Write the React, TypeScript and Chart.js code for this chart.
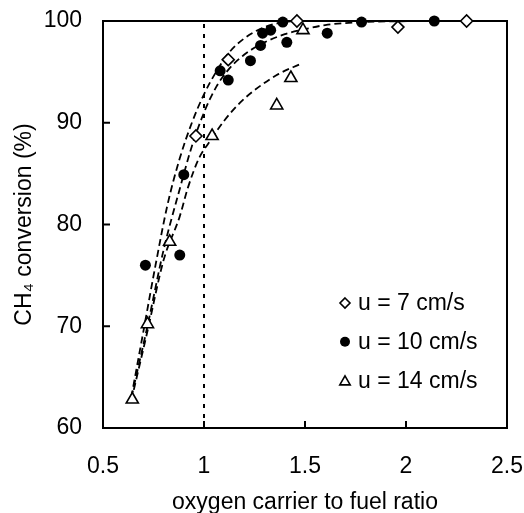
import React, { useEffect, useRef } from 'react';
import { Chart, registerables } from 'chart.js';

Chart.register(...registerables);

// ---- data ----
const seriesLabels = ['u = 7 cm/s', 'u = 10 cm/s', 'u = 14 cm/s'];

const u7X = [0.96, 1.12, 1.46, 1.96, 2.3];
const u7Y = [88.7, 96.2, 100, 99.4, 100];

const u10X = [0.71, 0.88, 0.9, 1.08, 1.12, 1.23, 1.28, 1.29, 1.33, 1.39, 1.41, 1.61, 1.78, 2.14];
const u10Y = [76.0, 77.0, 84.9, 95.1, 94.2, 96.1, 97.6, 98.8, 99.1, 99.9, 97.9, 98.8, 99.9, 100];

const u14X = [0.645, 0.72, 0.83, 1.04, 1.36, 1.43, 1.49];
const u14Y = [62.8, 70.2, 78.3, 88.7, 91.7, 94.4, 99.1];

// dashed fitted curves
const fit7X = [0.64, 0.7, 0.76, 0.82, 0.88, 0.94, 1.0, 1.06, 1.12, 1.2, 1.3, 1.4, 1.5, 2.3];
const fit7Y = [63, 69.5, 76, 82, 86.5, 90, 92.8, 95, 96.8, 98.3, 99.4, 99.9, 100, 100];

const fit10X = [0.64, 0.72, 0.8, 0.88, 0.94, 1.0, 1.06, 1.12, 1.2, 1.3, 1.4, 1.5, 1.6, 1.8, 2.15];
const fit10Y = [63, 70, 77.5, 83.5, 87.7, 91, 93.5, 95.2, 96.7, 97.9, 98.7, 99.2, 99.6, 99.9, 100];

const fit14X = [0.64, 0.72, 0.8, 0.88, 0.92, 0.975, 1.03, 1.1, 1.18, 1.27, 1.37, 1.48];
const fit14Y = [62.7, 69.5, 76.5, 80.8, 83.6, 86.5, 88.2, 90.2, 92, 93.5, 94.8, 95.8];

const refLineX = 1;
const xMin = 0.5;
const xMax = 2.5;
const xStep = 0.5;
const yMin = 60;
const yMax = 100;
const yStep = 10;

const xTitle = 'oxygen carrier to fuel ratio';
const yTitle = 'CH\u2084 conversion (%)';

const FONT = "'Liberation Sans', Arial, sans-serif";
const FONT_SIZE = 23;

const pts = (xs: number[], ys: number[]) => xs.map((x, i) => ({ x, y: ys[i] }));

function drawMarker(ctx: CanvasRenderingContext2D, style: string, x: number, y: number, r: number) {
  ctx.beginPath();
  if (style === 'circle') {
    ctx.arc(x, y, r, 0, Math.PI * 2);
    ctx.fillStyle = '#000';
    ctx.fill();
    return;
  }
  if (style === 'rectRot') {
    ctx.moveTo(x, y - r);
    ctx.lineTo(x + r, y);
    ctx.lineTo(x, y + r);
    ctx.lineTo(x - r, y);
    ctx.closePath();
  } else {
    ctx.moveTo(x, y - r);
    ctx.lineTo(x + r * 0.866, y + r * 0.5);
    ctx.lineTo(x - r * 0.866, y + r * 0.5);
    ctx.closePath();
  }
  ctx.fillStyle = '#fff';
  ctx.fill();
  ctx.lineWidth = 1.6;
  ctx.strokeStyle = '#000';
  ctx.stroke();
}

const framePlugin = {
  id: 'frameTicks',
  beforeDatasetsDraw(chart: any) {
    const { ctx, chartArea } = chart;
    const { left, right, top, bottom } = chartArea;
    ctx.save();
    ctx.strokeStyle = '#000';
    ctx.lineWidth = 2;
    ctx.strokeRect(left, top, right - left, bottom - top);
    const tl = 7;
    const xs = chart.scales.x;
    xs.ticks.forEach((t: any) => {
      const px = xs.getPixelForValue(t.value);
      ctx.beginPath();
      ctx.moveTo(px, bottom);
      ctx.lineTo(px, bottom - tl);
      ctx.stroke();
    });
    const ys = chart.scales.y;
    ys.ticks.forEach((t: any) => {
      const py = ys.getPixelForValue(t.value);
      ctx.beginPath();
      ctx.moveTo(left, py);
      ctx.lineTo(left + tl, py);
      ctx.stroke();
    });
    ctx.restore();
  },
};

const legendPlugin = {
  id: 'innerLegend',
  afterDraw(chart: any) {
    const { ctx, chartArea } = chart;
    ctx.save();
    ctx.font = `${FONT_SIZE}px ${FONT}`;
    ctx.fillStyle = '#000';
    ctx.textBaseline = 'middle';
    ctx.textAlign = 'left';
    const mx = chartArea.right - 162;
    const startY = chartArea.bottom - 125;
    const gap = 38.7;
    const markerDatasets = chart.data.datasets.filter((d: any) => d.isMarker);
    markerDatasets.forEach((d: any, i: number) => {
      const y = startY + i * gap;
      const r = d.pointStyle === 'circle' ? 5 : d.pointStyle === 'triangle' ? 6 : 5;
      drawMarker(ctx, d.pointStyle, mx, y + (d.pointStyle === 'triangle' ? 1.5 : 0), r);
      ctx.fillStyle = '#000';
      ctx.fillText(d.label, mx + 13, y + 1);
    });
    ctx.restore();
  },
};

export default function App() {
  const ref = useRef<HTMLCanvasElement | null>(null);
  useEffect(() => {
    if (!ref.current) return;
    Chart.defaults.font.family = FONT;
    Chart.defaults.font.size = FONT_SIZE;
    Chart.defaults.color = '#000';
    const lineDs = (label: string, xs: number[], ys: number[]) => ({
      type: 'line' as const,
      label,
      data: pts(xs, ys),
      borderColor: '#000',
      borderWidth: 1.8,
      borderDash: [7, 4],
      pointRadius: 0,
      fill: false,
      cubicInterpolationMode: 'monotone' as const,
      order: 2,
    });
    const chart = new Chart(ref.current, {
      type: 'scatter',
      data: {
        datasets: [
          {
            label: seriesLabels[0],
            data: pts(u7X, u7Y),
            pointStyle: 'rectRot',
            pointRadius: 6,
            backgroundColor: '#fff',
            borderColor: '#000',
            borderWidth: 1.6,
            clip: false,
            order: 0,
            isMarker: true,
          } as any,
          {
            label: seriesLabels[1],
            data: pts(u10X, u10Y),
            pointStyle: 'circle',
            pointRadius: 5.5,
            backgroundColor: '#000',
            borderColor: '#000',
            borderWidth: 0,
            clip: false,
            order: 0,
            isMarker: true,
          } as any,
          {
            label: seriesLabels[2],
            data: pts(u14X, u14Y),
            pointStyle: 'triangle',
            pointRadius: 7,
            backgroundColor: '#fff',
            borderColor: '#000',
            borderWidth: 1.6,
            clip: false,
            order: 0,
            isMarker: true,
          } as any,
          lineDs('fit 7', fit7X, fit7Y) as any,
          lineDs('fit 10', fit10X, fit10Y) as any,
          lineDs('fit 14', fit14X, fit14Y) as any,
          {
            type: 'line',
            label: 'stoichiometric',
            data: [
              { x: refLineX, y: yMin },
              { x: refLineX, y: yMax },
            ],
            borderColor: '#000',
            borderWidth: 2,
            borderDash: [4, 6],
            pointRadius: 0,
            fill: false,
            order: 3,
          } as any,
        ],
      },
      options: {
        animation: false,
        responsive: false,
        layout: { padding: { top: 21, right: 17, left: 0, bottom: 0 } },
        plugins: { legend: { display: false }, tooltip: { enabled: false } },
        scales: {
          x: {
            type: 'linear',
            min: xMin,
            max: xMax,
            ticks: {
              stepSize: xStep,
              padding: 0,
              color: '#000',
              callback: (v: any) => String(Math.round(Number(v) * 10) / 10),
            },
            grid: { drawOnChartArea: false, drawTicks: true, tickLength: 25, tickColor: 'rgba(0,0,0,0)' },
            border: { display: false },
            title: {
              display: true,
              text: xTitle,
              color: '#000',
              font: { size: FONT_SIZE, lineHeight: 1 },
              padding: { top: 0, bottom: -1 },
            },
            afterFit: (s: any) => {
              s.height = 85;
            },
          },
          y: {
            type: 'linear',
            min: yMin,
            max: yMax,
            ticks: { stepSize: yStep, padding: 0, color: '#000' },
            grid: { drawOnChartArea: false, drawTicks: true, tickLength: 21, tickColor: 'rgba(0,0,0,0)' },
            border: { display: false },
            title: {
              display: true,
              text: yTitle,
              color: '#000',
              font: { size: FONT_SIZE, lineHeight: 1 },
              padding: { top: 13, bottom: 0 },
            },
            afterFit: (s: any) => {
              s.width = 103;
            },
          },
        },
      },
      plugins: [framePlugin, legendPlugin],
    });
    return () => chart.destroy();
  }, []);
  return (
    <div style={{ position: 'absolute', left: 0, top: 0, width: 524, height: 513, background: '#fff' }}>
      <canvas ref={ref} width={524} height={513} style={{ display: 'block' }} />
    </div>
  );
}
